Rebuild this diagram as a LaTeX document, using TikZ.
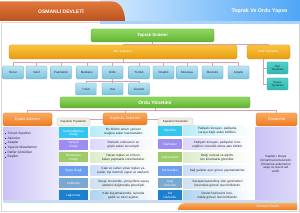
\documentclass[tikz,border=0pt]{standalone}
\usepackage{fontspec}
\setmainfont{Liberation Sans}
\definecolor{hdrL}{HTML}{D6EBFF}
\definecolor{hdrR}{HTML}{4FA6F6}
\definecolor{hdrS}{HTML}{A9D3FA}
\definecolor{tabT}{HTML}{E2783A}
\definecolor{tabB}{HTML}{B9521F}
\definecolor{connc}{HTML}{D9A0B0}
\definecolor{framec}{HTML}{D8D8D8}
\definecolor{grnT}{HTML}{90D85E}
\definecolor{grnB}{HTML}{62B236}
\definecolor{grnD}{HTML}{58A42F}
\definecolor{yelT}{HTML}{FBC43E}
\definecolor{yelB}{HTML}{E69C12}
\definecolor{yelD}{HTML}{CF8D10}
\definecolor{lndT}{HTML}{BDE4F3}
\definecolor{lndB}{HTML}{78C2DD}
\definecolor{lndD}{HTML}{5AA9C9}
\definecolor{tealT}{HTML}{52D0C8}
\definecolor{tealB}{HTML}{2FB8B0}
\definecolor{tealD}{HTML}{28A098}
\definecolor{orT}{HTML}{F9AC62}
\definecolor{orB}{HTML}{EE7A22}
\definecolor{orD}{HTML}{DC6E1C}
\definecolor{hdG}{HTML}{F3F0E8}
\definecolor{hdGD}{HTML}{B5AE9E}
\definecolor{lav}{HTML}{CBC3F6}
\definecolor{bandc}{HTML}{C8DCF2}
\definecolor{txd}{HTML}{222A30}
\definecolor{c1}{HTML}{35C6EF}
\definecolor{c2}{HTML}{9D8DF1}
\definecolor{c3}{HTML}{9DCB68}
\definecolor{c4}{HTML}{6C9EF0}
\definecolor{c5}{HTML}{79A8D1}
\definecolor{c6}{HTML}{1C80CF}
\begin{document}
\begin{tikzpicture}[x=1pt,y=-1pt,
  every node/.style={inner sep=0pt, align=center},
  conn/.style={draw=connc, line width=0.4pt},
  landbox/.style={rounded corners=1pt, draw=lndD, line width=0.3pt, top color=lndT, bottom color=lndB,
    minimum width=21pt, minimum height=13pt, text=txd, font=\fontsize{3}{3.5}\selectfont},
  tealbox/.style={rounded corners=1pt, draw=tealD, line width=0.3pt, top color=tealT, bottom color=tealB,
    minimum width=21pt, minimum height=12pt, text=txd, font=\fontsize{2.8}{3.3}\selectfont},
  greenbar/.style={rounded corners=2pt, draw=grnD, line width=0.3pt, top color=grnT, bottom color=grnB, text=white},
  yellowbar/.style={rounded corners=1.5pt, draw=yelD, line width=0.3pt, top color=yelT, bottom color=yelB, text=white,
    font=\fontsize{3}{3.5}\selectfont, minimum height=14pt},
  orangehead/.style={rounded corners=1.5pt, draw=orD, line width=0.3pt, top color=orT, bottom color=orB, text=white,
    minimum height=13pt},
  grayhead/.style={rounded corners=1.5pt, draw=hdGD, line width=0.3pt, fill=hdG, text=txd,
    font=\fontsize{3}{3.5}\selectfont, minimum height=8pt},
  unit/.style={text=white, font=\fontsize{3.1}{3.6}\selectfont, minimum height=10pt},
  desc/.style={text=txd, font=\fontsize{3.1}{3.7}\selectfont, minimum height=10pt, right color=white},
  listitem/.style={anchor=west, text=txd, font=\fontsize{3.2}{3.7}\selectfont}
]
\useasboundingbox (0,0) rectangle (300,213);
\fill[white] (0,0) rectangle (300,213);
% frame
\draw[framec, line width=0.5pt] (1,22) rectangle (299,211);
% header
\shade[left color=hdrL, right color=hdrR] (100,0) rectangle (300,21);
\fill[hdrS] (100,21) rectangle (300,24);
\shade[top color=tabT, bottom color=tabB] (0,1.5) -- (112,1.5) .. controls (120,1.5) and (125,10) .. (125,21) -- (0,21) -- cycle;
\node[text=white, font=\fontsize{5}{6}\bfseries] (t1) at (61,11) {OSMANLI DEVLETİ};
\node[text=white, font=\fontsize{5.3}{6}\bfseries] (t2) at (259.5,11) {Toprak Ve Ordu Yapısı};

% land system
\node[greenbar, minimum width=123pt, minimum height=13pt, font=\fontsize{4.3}{5}\bfseries] (ts) at (152.5,35.5) {Toprak Sistemi};
\node[yellowbar, minimum width=228pt] (miri) at (123,52) {Miri Topraklar};
\node[yellowbar, minimum width=43pt] (mulk) at (268.5,52) {Mülk Topraklar};

\node[landbox] (b1) at (13,72.5) {Beral};
\node[landbox] (b2) at (36.5,72.5) {Vakıf};
\node[landbox] (b3) at (61,72.5) {Paşmaklık};
\node[landbox] (b4) at (87,72.5) {Malikane};
\node[landbox] (b5) at (112.5,72.5) {Dirlik};
\node[landbox] (b6) at (139,72.5) {Yurtluk};
\node[landbox] (b7) at (163.5,72.5) {Ocaklık};
\node[landbox] (b8) at (187,72.5) {Mukataa};
\node[landbox] (b9) at (212.5,72.5) {Mevkufe};
\node[landbox] (b10) at (238.5,72.5) {Arpalık};

\node[landbox, minimum height=12pt] (s1) at (86,89) {Tımar};
\node[landbox, minimum height=12pt] (s2) at (112.5,89) {Has};
\node[landbox, minimum height=12pt] (s3) at (139,89) {Zeamet};

\node[tealbox] (oz) at (277.5,68) {Öşri\\Toprakları};
\node[tealbox] (hr) at (277.5,84) {Haraci\\Toprakları};

\draw[conn] (ts.south) -- ++(0,2) -| (miri.north);
\draw[conn] (ts.south) -- ++(0,2) -| (mulk.north);
\foreach \b in {b1,b2,b3,b4,b5,b6,b7,b8,b9,b10}
  \draw[conn] (miri.south) -- ++(0,3) -| (\b.north);
\foreach \b in {s1,s2,s3}
  \draw[conn] (b5.south) -- ++(0,2) -| (\b.north);
\coordinate (mk) at (263,59);
\draw[conn] (mk) |- (oz.west);
\draw[conn] (mk) |- (hr.west);

% army
\node[greenbar, minimum width=190pt, minimum height=11pt, font=\fontsize{4.8}{5.5}\bfseries] (oy) at (155,102.5) {Ordu Yönetimi};
\node[orangehead, minimum width=49pt, font=\fontsize{3.6}{4.2}\selectfont] (ea) at (27.5,119.5) {Eyalet Askerleri};
\node[orangehead, minimum width=44pt, minimum height=12pt, font=\fontsize{3.7}{4.3}\selectfont] (ka) at (125,119) {Kapıkulu Askerleri};
\node[orangehead, minimum width=41pt, font=\fontsize{4}{4.6}\selectfont] (dn) at (276.5,119.5) {Donanma};
\node[grayhead, minimum width=33pt] (kp) at (73.5,122) {Kapıkulu Piyadeleri};
\node[grayhead, minimum width=35pt] (ks) at (175.5,122) {Kapıkulu Süvarileri};

\draw[conn] (oy.south) -- ++(0,2) -| (ea.north);
\draw[conn] (oy.south) -- ++(0,2) -| (ka.north);
\draw[conn] (oy.south) -- ++(0,2) -| (dn.north);
\draw[conn] (ka.west) -- (ka.west -| kp.east);
\draw[conn] (ka.east) -- (ka.east -| ks.west);

% left panel
\shade[left color=lav, right color=white] (3,128) rectangle (88,200);
\node[listitem] (l1) at (5,133.3) {\rule{1pt}{1pt}\, Tımarlı Sipahiler};
\node[listitem] (l2) at (5,138) {\rule{1pt}{1pt}\, Akıncılar};
\node[listitem] (l3) at (5,142.7) {\rule{1pt}{1pt}\, Azaplar};
\node[listitem] (l4) at (5,147.4) {\rule{1pt}{1pt}\, Yaya ile Müsellemler};
\node[listitem] (l5) at (5,152.1) {\rule{1pt}{1pt}\, Deliler Gönüllüler};
\node[listitem] (l6) at (5,156.8) {\rule{1pt}{1pt}\, Beşliler};

% infantry
\node[unit, fill=c1, minimum width=29pt, minimum height=11pt] (p1) at (73.5,133) {Acemioğlanları\\Ocağı};
\node[unit, fill=c2, minimum width=29pt] (p2) at (73.5,145) {Yeniçeri\\Ocağı};
\node[unit, fill=c3, minimum width=29pt] (p3) at (73.5,157.5) {Humbaracı\\Ocağı};
\node[unit, fill=c4, minimum width=29pt] (p4) at (73.5,171) {Topçu Ocağı};
\node[unit, fill=c5, minimum width=29pt] (p5) at (73.5,183.5) {Cebeciler};
\node[unit, fill=c6, minimum width=29pt] (p6) at (73.5,195.5) {Lağımcılar};

\node[desc, left color=c1!35, minimum width=66pt, text width=64pt] (pd1) at (123.5,131.5) {Bu birimin amacı yeniçeri ocağına asker hazırlamaktır.};
\node[desc, left color=c2!35, minimum width=66pt, text width=64pt] (pd2) at (123.5,145) {Osmanlı ordusunun en güçlü askeri kuvvetiydi.};
\node[desc, left color=c3!35, minimum width=66pt, text width=64pt] (pd3) at (123.5,157.5) {Havan topları ve el bombaları yapmakla sorumludurlar.};
\node[desc, left color=c4!35, minimum width=66pt, text width=64pt] (pd4) at (123.5,171) {Kale ve surları yıkan topları yaparlar, top mermisi yapar ve atarlardı.};
\node[desc, left color=c5!35, minimum width=66pt, text width=64pt] (pd5) at (123.5,183.5) {Savaş öncesinde, yeniçerilere savaş aletlerini dağıtmakla görevliydi.};
\node[desc, left color=c6!35, minimum width=66pt, text width=64pt] (pd6) at (123.5,195.5) {Kale kuşatmalarında, surlarda gedik ve tünel açarlar.};

% cavalry
\node[unit, fill=c1, minimum width=24pt] (v1) at (170,131) {Sipahiler};
\node[unit, fill=c2, minimum width=24pt] (v2) at (170,144.5) {Silahtarlar};
\node[unit, fill=c3, minimum width=24pt] (v3) at (170,157.5) {Sağ Garipler};
\node[unit, fill=c4, minimum width=24pt] (v4) at (170,171) {Sol Garipler};
\node[unit, fill=c5, minimum width=24pt] (v5) at (170,183.5) {Sağ\\Ulufeciler};
\node[unit, fill=c6, minimum width=24pt] (v6) at (170,195.5) {Sol\\Ulufeciler};

\node[desc, left color=c1!35, minimum width=69pt, text width=60pt] (vd1) at (217.5,131) {Padişahı koruyan, padişaha, saraya bağlı asker birlikleri.};
\node[desc, left color=c2!35, minimum width=69pt, minimum height=11pt, text width=60pt] (vd2) at (217.5,144.5) {Padişahı koruyan, padişahın Güzergâhını Güvenlik altına alan birliktir.};
\node[desc, left color=c3!35, minimum width=69pt, text width=60pt] (vd3) at (217.5,157.5) {Otağ, sancak ve ağırlıkları korumakla görevliler.};
\node[desc, left color=c4!35, minimum width=69pt, text width=60pt] (vd4) at (217.5,171) {Sağ garipler aynı görevi yapmaktadırlar.};
\node[desc, left color=c5!35, minimum width=69pt, text width=62pt] (vd5) at (217.5,183.5) {Savaşta kazanılmış olan ganimetleri korumakla görevli olan birliklerdir.};
\node[desc, left color=c6!35, minimum width=69pt, text width=60pt] (vd6) at (217.5,195.5) {Devlet hazinesini korumakla görevli olan birliklerdir.};

% navy panel
\node[left color=lav, right color=lav!65, minimum width=42pt, minimum height=72pt, text=txd, font=\fontsize{3.1}{3.8}\selectfont] (dp) at (276,164) {Kaptan-ı Derya\\Donanma komutanıdır.\\Donanma askerlerine\\azap ve levent adı\\verilir.};

% footer
\fill[bandc] (3,200) rectangle (297,203);
\shade[top color=orT, bottom color=orB] (186,203) .. controls (180,203) and (178,206) .. (178,210) -- (297,210) -- (297,203) -- cycle;
\node[text=white, font=\fontsize{3.2}{3.8}\selectfont] (ft) at (268,206.5) {Osmanlı Devleti};
\end{tikzpicture}
\end{document}
